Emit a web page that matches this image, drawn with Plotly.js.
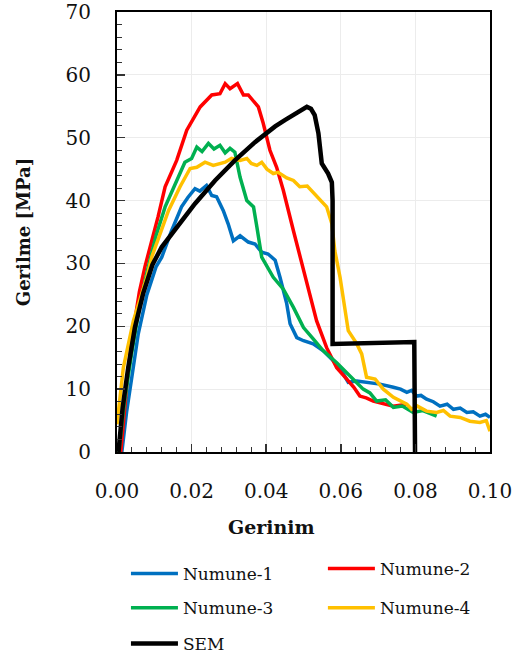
<!DOCTYPE html>
<html>
<head>
<meta charset="utf-8">
<script src="https://cdn.plot.ly/plotly-3.0.1.min.js"></script>
<style>html,body{margin:0;padding:0;background:#fff;}#chart{width:514px;height:663px;}</style>
</head>
<body>
<div id="chart"></div>
<script>
// Series names
const seriesNames = ["Numune-1", "Numune-2", "Numune-3", "Numune-4", "SEM"];
const xTitle = "Gerinim";
const yTitle = "Gerilme [MPa]";

// Numune-1 (strain, stress MPa)
const strain1 = [0.0013,0.0026,0.004,0.0057,0.008,0.0105,0.012,0.0145,0.0173,0.019,0.0209,0.0222,0.024,0.0254,0.0267,0.0285,0.0298,0.0312,0.033,0.0352,0.037,0.0388,0.0405,0.0424,0.0437,0.0455,0.0464,0.0482,0.05,0.0526,0.0553,0.058,0.0607,0.062,0.0643,0.0669,0.0705,0.0741,0.076,0.0777,0.079,0.0803,0.0815,0.083,0.0848,0.0866,0.0885,0.0902,0.092,0.0938,0.0955,0.0973,0.0988,0.1];
const stress1 = [0,6.5,12,18.8,25,29.5,31,35,39,40.5,41.9,41.5,42.4,40.8,40.6,38.4,36.3,33.6,34.4,33.4,33.1,31.8,31.5,30.5,27.8,23.6,20.4,18.2,17.7,17.2,16.1,14.5,12.4,11.1,11.3,11.1,10.8,10.3,10.0,9.5,9.8,8.9,9.0,8.4,8.0,7.3,7.6,6.8,7.0,6.3,6.4,5.7,6.0,5.5];

// Numune-2
const strain2 = [0.001,0.002,0.003,0.004,0.005,0.006,0.0075,0.0095,0.011,0.0129,0.016,0.0187,0.0223,0.0254,0.0276,0.029,0.0303,0.0323,0.0339,0.0352,0.0379,0.0392,0.041,0.0428,0.0446,0.0473,0.0504,0.0535,0.0562,0.0589,0.0616,0.0635,0.0651,0.0668,0.0687,0.071,0.0741,0.0777];
const stress2 = [0,7,13,18,22,25.5,29.5,34,37.4,42.2,46.4,51.2,54.9,56.8,57,58.6,57.8,58.6,56.8,56.8,54.9,52.3,48,45.3,41.6,35.2,27.8,20.9,16.6,13.4,11.6,10.3,8.9,8.6,8.1,7.7,7.3,7.6];

// Numune-3
const strain3 = [0.0005,0.002,0.004,0.006,0.008,0.0105,0.0129,0.0164,0.0182,0.02,0.0214,0.0228,0.0245,0.026,0.0276,0.029,0.0303,0.0316,0.033,0.0348,0.0366,0.0375,0.0388,0.0419,0.0446,0.0473,0.05,0.0526,0.0553,0.0589,0.0625,0.066,0.0678,0.0696,0.072,0.0741,0.0765,0.0794,0.082,0.0857];
const stress3 = [0,8,16,23,28.5,34.5,39,43.7,46.1,46.7,48.5,47.8,49.1,48.2,48.8,47.6,48.3,47.7,43.7,40,39,35.8,31,27.8,25.9,23,19.8,18,16.1,14.2,12.1,10,9.4,8.1,8.3,7.1,7.3,6.3,6.6,5.7];

// Numune-4
const strain4 = [0,0.0017,0.0044,0.008,0.0093,0.0138,0.0169,0.0196,0.0214,0.0236,0.0258,0.0275,0.029,0.0307,0.033,0.0348,0.036,0.0375,0.0388,0.0402,0.0419,0.0432,0.0455,0.0473,0.049,0.051,0.0535,0.0562,0.0576,0.0584,0.0598,0.0611,0.062,0.0643,0.0656,0.0669,0.0692,0.0714,0.0741,0.0777,0.079,0.0805,0.083,0.0857,0.0875,0.0893,0.092,0.0946,0.0973,0.099,0.1];
const stress4 = [4.4,13.4,20.9,27.8,31,38.4,42.2,45.1,45.3,46.1,45.6,45.9,46.1,46.7,46.4,46.7,45.9,45.6,46.1,45,44.3,44.5,43.6,43.2,42.2,42.3,40.8,39,36.3,32,27.8,23,19.3,17.2,15.6,11.9,11.6,10,8.7,7.6,6.8,7.3,6.5,6.3,6.6,5.7,5.5,4.9,4.7,5.0,3.3];

// SEM
const strain5 = [0.0004,0.0015,0.003,0.0048,0.007,0.0095,0.012,0.0164,0.0209,0.0263,0.0316,0.037,0.0397,0.0424,0.045,0.0473,0.0495,0.0509,0.052,0.053,0.054,0.0549,0.0566,0.0576,0.0578,0.0578,0.0797,0.0799];
const stress5 = [0,7,13.4,19.8,25.2,29.8,32.6,36,39.5,43.2,46.4,49.3,50.6,51.8,52.8,53.6,54.4,54.9,54.6,53.6,50.7,45.9,44.3,42.9,40,17.2,17.5,0];

// Axis ticks
const xTicks = [0, 0.02, 0.04, 0.06, 0.08, 0.10];
const xTickText = ["0.00", "0.02", "0.04", "0.06", "0.08", "0.10"];
const yTicks = [0, 10, 20, 30, 40, 50, 60, 70];

const colors = ["#0070C0", "#FF0000", "#00B050", "#FFC000", "#000000"];
const widths = [3.5, 3.5, 3.5, 3.5, 4.5];
const xs = [strain1, strain2, strain3, strain4, strain5];
const ys = [stress1, stress2, stress3, stress4, stress5];
const legendIds = ["legend", "legend2", "legend3", "legend4", "legend5"];

const data = seriesNames.map((n, i) => ({
  type: "scatter", mode: "lines", name: n,
  x: xs[i], y: ys[i],
  line: {color: colors[i], width: widths[i]},
  legend: legendIds[i], showlegend: true, hoverinfo: "skip"
}));

const serif = "DejaVu Serif";
function legendAt(x, y) {
  return {x: x, y: y, xref: "paper", yref: "paper", xanchor: "left", yanchor: "middle",
    bgcolor: "rgba(0,0,0,0)", borderwidth: 0, itemwidth: 47,
    font: {family: serif, size: 17, color: "#111"}};
}

const axisCommon = {
  ticks: "inside", ticklen: 8, tickwidth: 1.5, tickcolor: "#333",
  showline: true, linecolor: "#000", linewidth: 2, mirror: true,
  showgrid: true, gridcolor: "#ececec", gridwidth: 1, zeroline: false,
  tickfont: {family: serif, size: 20, color: "#111"}
};

const layout = {
  width: 514, height: 663,
  margin: {l: 117, r: 24, t: 12, b: 211, autoexpand: false},
  paper_bgcolor: "#fff", plot_bgcolor: "#fff",
  showlegend: true,
  xaxis: Object.assign({}, axisCommon, {
    range: [0, 0.1], tickvals: xTicks, ticktext: xTickText,
    ticklabelstandoff: 20,
    minor: {dtick: 0.004, tick0: 0, ticks: "inside", ticklen: 5, tickwidth: 1, tickcolor: "#333", showgrid: false}
  }),
  yaxis: Object.assign({}, axisCommon, {
    range: [0, 70], tickvals: yTicks,
    ticklabelstandoff: 20,
    minor: {dtick: 2, tick0: 0, ticks: "inside", ticklen: 5, tickwidth: 1, tickcolor: "#333", showgrid: false},
    title: {text: yTitle, standoff: 30, font: {family: serif, size: 18, color: "#111", weight: "bold"}}
  }),
  annotations: [{
    text: xTitle, xref: "paper", yref: "paper", x: 0.4155, y: -0.17,
    xanchor: "center", yanchor: "middle", showarrow: false,
    font: {family: serif, size: 19, color: "#111", weight: "bold"}
  }],
  legend: legendAt(0.024, -0.277),
  legend2: legendAt(0.552, -0.266),
  legend3: legendAt(0.024, -0.355),
  legend4: legendAt(0.552, -0.355),
  legend5: legendAt(0.024, -0.436)
};

Plotly.newPlot("chart", data, layout, {displayModeBar: false, staticPlot: true});
</script>
</body>
</html>
